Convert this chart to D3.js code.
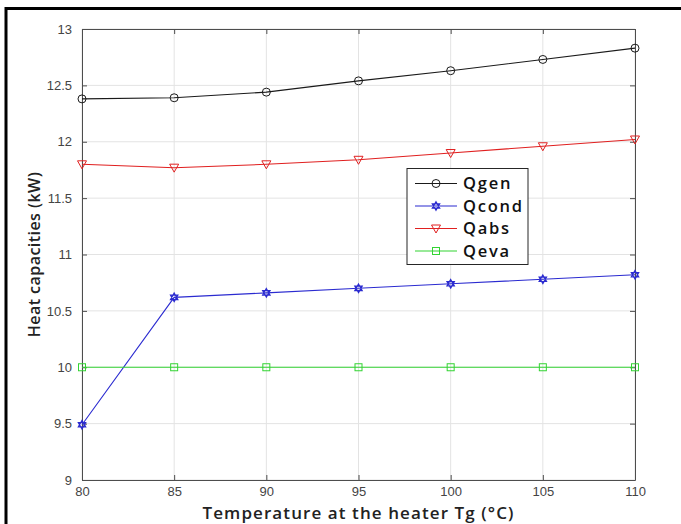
<!DOCTYPE html>
<html>
<head>
<meta charset="utf-8">
<script src="https://cdn.jsdelivr.net/npm/d3@7"></script>
<style>
  body { margin: 0; background: #fff; }
  svg { display: block; }
</style>
</head>
<body>
<div class="chart"></div>
<script>
(function(){

    // data
    var temps = [80, 85, 90, 95, 100, 105, 110]
    var qgen  = [12.38, 12.39, 12.44, 12.54, 12.63, 12.73, 12.83]
    var qcond = [9.49, 10.62, 10.66, 10.70, 10.74, 10.78, 10.82]
    var qabs  = [11.80, 11.77, 11.80, 11.84, 11.90, 11.96, 12.02]
    var qeva  = [10.00, 10.00, 10.00, 10.00, 10.00, 10.00, 10.00]
    var xTicks = [80, 85, 90, 95, 100, 105, 110]
    var yTicks = [9, 9.5, 10, 10.5, 11, 11.5, 12, 12.5, 13]

    var series = [
        {name: "Qgen",  values: qgen,  color: "#1a1a1a", marker: "circle"},
        {name: "Qcond", values: qcond, color: "#2b2bd0", marker: "hexagram"},
        {name: "Qabs",  values: qabs,  color: "#e02020", marker: "triangle"},
        {name: "Qeva",  values: qeva,  color: "#33d433", marker: "square"}
    ]

    var width = 681, height = 524
    var margin = {top: 29, left: 82, bottom: 44, right: 46}
    var chartWidth = width - margin.left - margin.right
    var chartHeight = height - margin.top - margin.bottom

    var svg = d3.select(".chart").append("svg")
        .attr("width", width).attr("height", height)

    // outer frame (left + top only)
    svg.append("path")
        .attr("d", "M6," + height + "V8.5H" + width)
        .attr("fill", "none").attr("stroke", "#000").attr("stroke-width", 3)

    var x = d3.scaleLinear().domain([80, 110]).range([0, chartWidth])
    var y = d3.scaleLinear().domain([9, 13]).range([chartHeight, 0])

    var chart = svg.append("g")
        .attr("transform", "translate(" + [margin.left, margin.top] + ")")

    // grid
    var grid = chart.append("g").attr("class", "grid")
    grid.selectAll(".gx").data(xTicks).enter().append("line")
        .attr("x1", function(d){ return x(d) }).attr("x2", function(d){ return x(d) })
        .attr("y1", 0).attr("y2", chartHeight)
        .attr("stroke", "#e3e3e3").attr("stroke-width", 1)
    grid.selectAll(".gy").data(yTicks).enter().append("line")
        .attr("y1", function(d){ return y(d) }).attr("y2", function(d){ return y(d) })
        .attr("x1", 0).attr("x2", chartWidth)
        .attr("stroke", "#e3e3e3").attr("stroke-width", 1)

    // axes (ticks inward, box on all sides)
    var axisColor = "#4d4d4d"
    function styleAxis(g) {
        g.attr("font-size", null).attr("font-family", null)
        g.select(".domain").attr("stroke", axisColor)
        g.selectAll(".tick line").attr("stroke", axisColor)
        g.selectAll(".tick text").attr("fill", "#444")
            .style("font-family", "Liberation Sans, Arial, sans-serif")
            .style("font-size", "13px")
    }

    chart.append("g")
        .attr("transform", "translate(0," + chartHeight + ")")
        .call(d3.axisBottom(x).tickValues(xTicks).tickSizeInner(-5).tickSizeOuter(0).tickPadding(7))
        .call(styleAxis)
    chart.append("g")
        .call(d3.axisLeft(y).tickValues(yTicks).tickFormat(d3.format("")).tickSizeInner(-5).tickSizeOuter(0).tickPadding(10))
        .call(styleAxis)
    chart.append("g")
        .call(d3.axisTop(x).tickValues(xTicks).tickSizeInner(-5).tickSizeOuter(0).tickFormat(""))
        .call(styleAxis)
    chart.append("g")
        .attr("transform", "translate(" + chartWidth + ",0)")
        .call(d3.axisRight(y).tickValues(yTicks).tickSizeInner(-5).tickSizeOuter(0).tickFormat(""))
        .call(styleAxis)

    // markers
    function drawMarker(sel, type, color) {
        if (type === "circle") {
            sel.append("circle").attr("r", 4)
                .attr("fill", "none").attr("stroke", color).attr("stroke-width", 1)
        } else if (type === "triangle") {
            sel.append("path").attr("d", "M-4.5,-3.5L4.5,-3.5L0,4.5z")
                .attr("fill", "none").attr("stroke", color).attr("stroke-width", 1)
        } else if (type === "square") {
            sel.append("rect").attr("x", -3.5).attr("y", -3.5).attr("width", 7).attr("height", 7)
                .attr("fill", "none").attr("stroke", color).attr("stroke-width", 1)
        } else {
            sel.append("path").attr("d", "M0,-4.3L3.7,2.2L-3.7,2.2zM0,4.3L3.7,-2.2L-3.7,-2.2z")
                .attr("fill", "none").attr("stroke", color).attr("stroke-width", 1.2)
        }
    }

    var line = d3.line()
        .x(function(d, i){ return x(temps[i]) })
        .y(function(d){ return y(d) })

    series.forEach(function(s){
        var g = chart.append("g").attr("class", "series")
        g.append("path")
            .attr("d", line(s.values))
            .attr("fill", "none").attr("stroke", s.color).attr("stroke-width", 1.1)
        g.selectAll(".pt").data(s.values).enter().append("g")
            .attr("transform", function(d, i){ return "translate(" + [x(temps[i]), y(d)] + ")" })
            .each(function(){ drawMarker(d3.select(this), s.marker, s.color) })
    })

    // spread a text's letters so it spans the width seen in the reference
    function spacingFor(sel, target) {
        var w = sel.node().getComputedTextLength()
        var n = sel.text().length
        return (w > 0 && n > 1) ? ((target - w) / (n - 1)).toFixed(2) + "px" : "0px"
    }
    function fitText(sel, target) {
        sel.style("letter-spacing", spacingFor(sel, target))
    }

    // legend
    var legend = svg.append("g").attr("transform", "translate(407,168.5)")
    legend.append("rect")
        .attr("width", 121).attr("height", 96)
        .attr("fill", "#fff").attr("stroke", "#262626").attr("stroke-width", 1)
    var legendTexts = []
    series.forEach(function(s, i){
        var row = legend.append("g").attr("transform", "translate(0," + (15 + i * 22.5) + ")")
        row.append("line").attr("x1", 8).attr("x2", 50)
            .attr("stroke", s.color).attr("stroke-width", 1.1)
        drawMarker(row.append("g").attr("transform", "translate(29,0)"), s.marker, s.color)
        legendTexts.push(row.append("text").attr("x", 56).attr("dy", "0.36em")
            .style("font-family", "Open Sans, sans-serif")
            .style("font-size", "16.5px").style("font-weight", 600)
            .attr("fill", "#111")
            .text(s.name))
    })
    // "Qcond" is about 59px wide in the reference
    var ls = spacingFor(legendTexts[1], 59)
    legendTexts.forEach(function(t){ t.style("letter-spacing", ls) })

    // axis titles
    svg.append("text")
        .attr("x", margin.left + chartWidth / 2).attr("y", 519)
        .attr("text-anchor", "middle")
        .style("font-family", "Open Sans, sans-serif")
        .style("font-size", "17px").style("font-weight", 600)
        .attr("fill", "#222")
        .text("Temperature at the heater Tg (°C)")
        .call(fitText, 311)

    svg.append("text")
        .attr("transform", "translate(40," + (margin.top + chartHeight / 2) + ") rotate(-90)")
        .attr("text-anchor", "middle")
        .style("font-family", "Open Sans, sans-serif")
        .style("font-size", "16px").style("font-weight", 600)
        .attr("fill", "#222")
        .text("Heat capacities (kW)")
        .call(fitText, 165)

})();
</script>
</body>
</html>
